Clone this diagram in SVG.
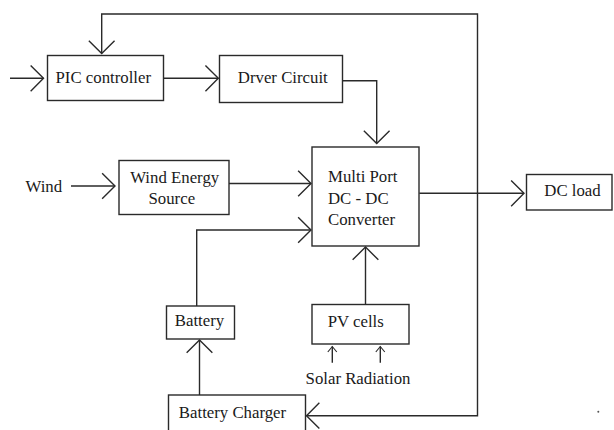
<svg xmlns="http://www.w3.org/2000/svg" width="614" height="430" viewBox="0 0 614 430">
<defs>
<style>
.box{fill:#fff;stroke:#2a2a2a;stroke-width:1.4}
.ln{fill:none;stroke:#2a2a2a;stroke-width:1.4}
.t{font-family:'Liberation Serif',Tinos,'Times New Roman',Times,'DejaVu Serif',serif;font-size:16.8px;fill:#1a1a1a}
.m{text-anchor:middle}
</style>
<marker id="ah" markerUnits="userSpaceOnUse" markerWidth="30" markerHeight="30" viewBox="-14 -14 16 28" refX="0" refY="0" orient="auto-start-reverse">
<path d="M-12,-12 L0,0 L-12,12" fill="none" stroke="#2a2a2a" stroke-width="1.3"/>
</marker>
<marker id="sah" markerUnits="userSpaceOnUse" markerWidth="14" markerHeight="14" viewBox="-7 -7 8 14" refX="0" refY="0" orient="auto">
<path d="M-5.5,-4.5 L0,0 L-5.5,4.5" fill="none" stroke="#2a2a2a" stroke-width="1.1"/>
</marker>
</defs>
<rect width="614" height="430" fill="#fff"/>
<g id="connectors">
<path class="ln" d="M101.7,53.5 V14 H477.5 V415.7 H306.5" marker-start="url(#ah)" marker-end="url(#ah)"/>
<path class="ln" d="M10,78.3 H43.5" marker-end="url(#ah)"/>
<path class="ln" d="M163.5,78.3 H218.3" marker-end="url(#ah)"/>
<path class="ln" d="M342.7,80.7 H376.7 V143.5" marker-end="url(#ah)"/>
<path class="ln" d="M71,186 H115" marker-end="url(#ah)"/>
<path class="ln" d="M229,183.5 H311" marker-end="url(#ah)"/>
<path class="ln" d="M196.7,306 V230 H311" marker-end="url(#ah)"/>
<path class="ln" d="M419.3,193.3 H524" marker-end="url(#ah)"/>
<path class="ln" d="M365.5,304.5 V247" marker-end="url(#ah)"/>
<path class="ln" d="M199.5,395 V340" marker-end="url(#ah)"/>
<path class="ln" d="M332.3,362.7 V346.5" stroke-width="1.1" marker-end="url(#sah)"/>
<path class="ln" d="M380.3,362.7 V346.5" stroke-width="1.1" marker-end="url(#sah)"/>
</g>
<g id="pic">
<rect class="box" x="47.5" y="55.5" width="116" height="45"/>
<text class="t m" font-family="Liberation Serif, serif" x="103.3" y="83.3">PIC controller</text>
</g>
<g id="driver">
<rect class="box" x="219.5" y="55.5" width="123" height="47"/>
<text class="t m" x="282.8" y="83.3">Drver Circuit</text>
</g>
<g id="wind-label">
<text class="t m" x="43.8" y="192.3">Wind</text>
</g>
<g id="wind-source">
<rect class="box" x="119" y="160.5" width="110" height="54"/>
<text class="t m" x="174.7" y="183.3">Wind Energy</text>
<text class="t m" x="171.8" y="204">Source</text>
</g>
<g id="converter">
<rect class="box" x="312" y="147" width="107" height="99"/>
<text class="t" x="328" y="182.3">Multi Port</text>
<text class="t" x="328" y="204">DC - DC</text>
<text class="t" x="328" y="225">Converter</text>
</g>
<g id="dc-load">
<rect class="box" x="526.5" y="174.5" width="85.5" height="35.5"/>
<text class="t m" x="572.5" y="196">DC load</text>
</g>
<g id="battery">
<rect class="box" x="166.5" y="306" width="68" height="33"/>
<text class="t m" x="199.5" y="326">Battery</text>
</g>
<g id="pv">
<rect class="box" x="312" y="304.5" width="97" height="39.5"/>
<text class="t m" x="355.7" y="326.7">PV cells</text>
</g>
<g id="solar">
<text class="t m" x="358" y="384.3">Solar Radiation</text>
</g>
<g id="charger">
<rect class="box" x="168.5" y="395" width="137" height="40"/>
<text class="t m" x="232.5" y="418.3">Battery Charger</text>
</g>
<circle cx="598.3" cy="411.7" r="1" fill="#555"/>
</svg>
